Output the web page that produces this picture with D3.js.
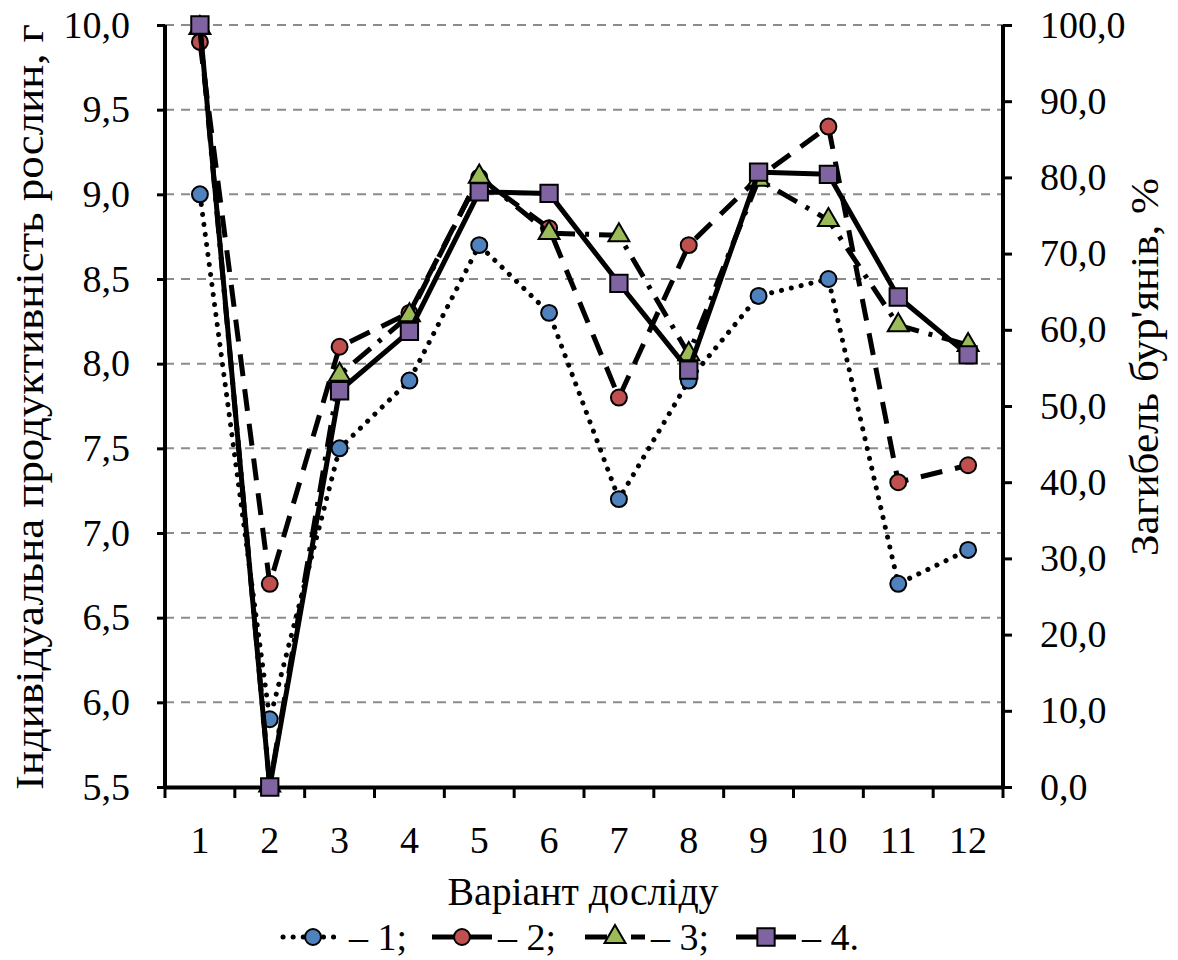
<!DOCTYPE html>
<html>
<head>
<meta charset="utf-8">
<script src="https://cdn.jsdelivr.net/npm/d3@7"></script>
<style>
  body { margin: 0; background: #fff; }
</style>
</head>
<body>
<svg id="vis"></svg>
<script>
const svg = d3.select("#vis").attr("width", 1178).attr("height", 960);
const FONT = "'Liberation Serif', 'Times New Roman', Times, serif";

// categories (варіант досліду)
const variants = ["1", "2", "3", "4", "5", "6", "7", "8", "9", "10", "11", "12"];

// left axis series, g
const series1 = [9.0, 5.9, 7.5, 7.9, 8.7, 8.3, 7.2, 7.9, 8.4, 8.5, 6.7, 6.9];
const series2 = [9.9, 6.7, 8.1, 8.3, 9.1, 8.8, 7.8, 8.7, 9.1, 9.4, 7.3, 7.4];
// right axis series, %
const series3 = [99.6, 0.2, 54.1, 61.9, 80.1, 72.7, 72.4, 56.8, 79.7, 74.4, 60.6, 58.0];
const series4 = [100.0, 0.0, 52.0, 59.8, 78.1, 77.9, 66.1, 54.7, 80.7, 80.4, 64.3, 56.7];

const leftTicks = [5.5, 6.0, 6.5, 7.0, 7.5, 8.0, 8.5, 9.0, 9.5, 10.0];
const rightTicks = [0, 10, 20, 30, 40, 50, 60, 70, 80, 90, 100];
const legendLabels = ["– 1;", "– 2;", "– 3;", "– 4."];

const plot = {left: 165, right: 1003, top: 25, bottom: 787};

let xscale = d3.scaleBand().domain(variants).range([plot.left, plot.right]);
let yLeft = d3.scaleLinear().domain([5.5, 10]).range([plot.bottom, plot.top]);
let yRight = d3.scaleLinear().domain([0, 100]).range([plot.bottom, plot.top]);

const fmt = d => d3.format(".1f")(d).replace(".", ",");

const seriesDefs = [
    {values: series1, y: yLeft, fill: "#4F81BD", marker: "circle", dash: "0.1,10", legendDash: "0.1,10", cap: "round"},
    {values: series2, y: yLeft, fill: "#C0504D", marker: "circle", dash: "22,13", legendDash: null, cap: "butt"},
    {values: series3, y: yRight, fill: "#9BBB59", marker: "triangle", dash: "22,10,4,10", legendDash: "22,10,4,10", cap: "butt"},
    {values: series4, y: yRight, fill: "#8064A2", marker: "square", dash: null, legendDash: null, cap: "butt"},
];


function main() {
    drawGrid();
    drawAxes();
    seriesDefs.forEach(drawSeries);
    drawTitles();
    drawLegend();
}


function drawGrid() {
    svg.append("g").selectAll("line").data(leftTicks.filter(d => d > 5.5)).join("line")
        .attr("x1", plot.left).attr("x2", plot.right)
        .attr("y1", d => yLeft(d)).attr("y2", d => yLeft(d))
        .attr("stroke", "#8c8c8c")
        .attr("stroke-width", 2)
        .attr("stroke-dasharray", "9,7");
}


function drawAxes() {
    const left = svg.append("g")
        .attr("transform", `translate(${plot.left},0)`)
        .call(d3.axisLeft(yLeft).tickValues(leftTicks).tickFormat(fmt).tickSize(8).tickPadding(27));
    const right = svg.append("g")
        .attr("transform", `translate(${plot.right},0)`)
        .call(d3.axisRight(yRight).tickValues(rightTicks).tickFormat(fmt).tickSize(9).tickPadding(28));
    const bottom = svg.append("g")
        .attr("transform", `translate(0,${plot.bottom})`)
        .call(d3.axisBottom(xscale).tickSize(0).tickPadding(39));

    // ticks between categories on the x axis
    bottom.selectAll(".sep").data(d3.range(variants.length + 1)).join("line")
        .attr("class", "sep")
        .attr("x1", i => plot.left + i * xscale.step())
        .attr("x2", i => plot.left + i * xscale.step())
        .attr("y1", 0).attr("y2", 11)
        .attr("stroke", "#000").attr("stroke-width", 3);

    [left, right, bottom].forEach(g => {
        g.attr("font-family", null).attr("font-size", null);
        g.select(".domain").attr("stroke", "#000").attr("stroke-width", 4);
        g.selectAll(".tick line").attr("stroke", "#000").attr("stroke-width", 3);
        g.selectAll(".tick text")
            .style("font-family", FONT)
            .style("font-size", "38px")
            .attr("fill", "#000");
    });
    left.select(".domain").attr("d", `M0,${plot.top}V${plot.bottom}`);
    right.select(".domain").attr("d", `M0,${plot.top}V${plot.bottom}`);
}


function markerPath(type, size) {
    if (type === "circle") return d3.symbol(d3.symbolCircle, size)();
    if (type === "square") return d3.symbol(d3.symbolSquare, size)();
    return d3.symbol(d3.symbolTriangle, size)();
}

const markerSize = {circle: 200, square: 300, triangle: 190};


function drawSeries(s) {
    const line = d3.line()
        .x((d, i) => xscale(variants[i]) + xscale.bandwidth() / 2)
        .y(d => s.y(d));

    const g = svg.append("g");
    g.append("path")
        .attr("d", line(s.values))
        .attr("fill", "none")
        .attr("stroke", "#000")
        .attr("stroke-width", 5)
        .attr("stroke-linecap", s.cap)
        .attr("stroke-linejoin", "round")
        .attr("stroke-dasharray", s.dash);

    g.selectAll(".mk").data(s.values).join("path")
        .attr("class", "mk")
        .attr("transform", (d, i) => `translate(${xscale(variants[i]) + xscale.bandwidth() / 2},${s.y(d)})`)
        .attr("d", markerPath(s.marker, markerSize[s.marker]))
        .attr("fill", s.fill)
        .attr("stroke", "#000")
        .attr("stroke-width", 2);
}


function addText(sel) {
    return sel.append("text").style("font-family", FONT).style("font-size", "38px").attr("fill", "#000");
}


function drawTitles() {
    addText(svg)
        .attr("transform", "translate(43,407) rotate(-90)")
        .attr("text-anchor", "middle")
        .attr("textLength", 766)
        .attr("lengthAdjust", "spacingAndGlyphs")
        .style("font-size", "40px")
        .text("Індивідуальна продуктивність рослин, г");

    addText(svg)
        .attr("transform", "translate(1158,367) rotate(-90)")
        .attr("text-anchor", "middle")
        .attr("textLength", 378)
        .attr("lengthAdjust", "spacingAndGlyphs")
        .style("font-size", "40px")
        .text("Загибель бур'янів, %");

    addText(svg)
        .attr("x", 583).attr("y", 905)
        .attr("text-anchor", "middle")
        .attr("textLength", 271)
        .attr("lengthAdjust", "spacingAndGlyphs")
        .style("font-size", "40px")
        .text("Варіант досліду");
}


function drawLegend() {
    const starts = [283, 432, 585, 736];
    const lg = svg.append("g");
    seriesDefs.forEach((s, i) => {
        const x0 = starts[i], y0 = 937;
        lg.append("line")
            .attr("x1", x0).attr("x2", x0 + 60)
            .attr("y1", y0).attr("y2", y0)
            .attr("stroke", "#000")
            .attr("stroke-width", 5)
            .attr("stroke-linecap", s.cap)
            .attr("stroke-dasharray", s.legendDash);
        lg.append("path")
            .attr("transform", `translate(${x0 + 30},${y0})`)
            .attr("d", markerPath(s.marker, markerSize[s.marker]))
            .attr("fill", s.fill)
            .attr("stroke", "#000")
            .attr("stroke-width", 2);
        addText(lg)
            .attr("x", x0 + 66).attr("y", y0 + 13)
            .text(legendLabels[i]);
    });
}


main();
</script>
</body>
</html>
